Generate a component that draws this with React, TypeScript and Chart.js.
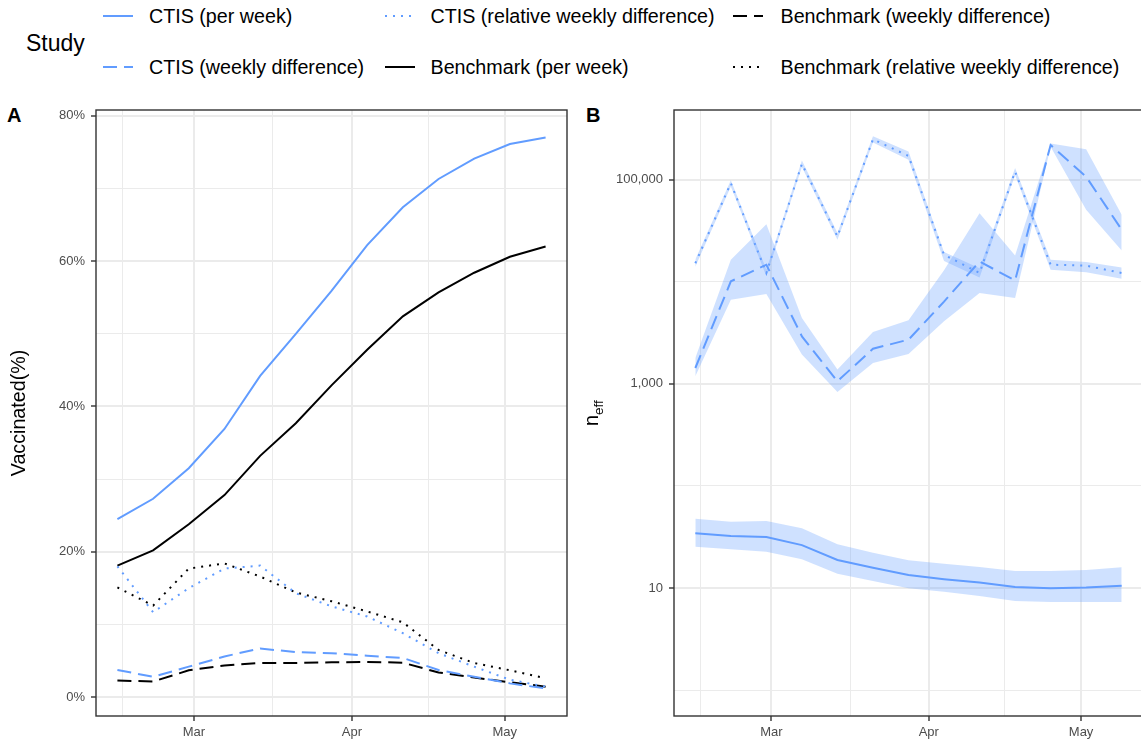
import React, { useEffect, useRef } from "react";
import { Chart, registerables } from "chart.js";

Chart.register(...registerables);

const FONT = "'Liberation Sans', Arial, Helvetica, sans-serif";
Chart.defaults.font.family = FONT;

// ---------------- data ----------------
const weeks = [
  "2021-02-14", "2021-02-21", "2021-02-28", "2021-03-07", "2021-03-14", "2021-03-21", "2021-03-28",
  "2021-04-04", "2021-04-11", "2021-04-18", "2021-04-25", "2021-05-02", "2021-05-09",
];
const monthBreaks = ["2021-02-01", "2021-03-01", "2021-04-01", "2021-05-01", "2021-06-01"];
const monthNames = ["Feb", "Mar", "Apr", "May", "Jun"];

// Panel A: vaccinated (%)
const ctisPerWeek = [24.5, 27.3, 31.5, 36.9, 44.2, 50.0, 55.9, 62.2, 67.4, 71.3, 74.1, 76.1, 77.0];
const benchPerWeek = [18.1, 20.2, 23.8, 27.8, 33.2, 37.7, 42.9, 47.8, 52.4, 55.7, 58.4, 60.6, 62.0];
const ctisWeeklyDiff = [3.75, 2.8, 4.2, 5.6, 6.7, 6.2, 6.05, 5.7, 5.4, 3.75, 2.8, 1.9, 1.2];
const benchWeeklyDiff = [2.3, 2.15, 3.7, 4.35, 4.7, 4.7, 4.8, 4.85, 4.75, 3.4, 2.7, 2.05, 1.45];
const ctisRelDiff = [18.0, 11.7, 15.0, 17.7, 18.1, 14.3, 12.5, 11.1, 8.8, 6.05, 4.2, 2.4, 1.45];
const benchRelDiff = [15.1, 12.6, 17.7, 18.4, 16.6, 14.4, 13.2, 11.8, 10.3, 6.5, 4.7, 3.7, 2.6];
const pctTicks = [0, 20, 40, 60, 80];

// Panel B: effective sample size
const neffPerWeek = [34.3, 32.3, 31.6, 26.3, 18.8, 15.8, 13.4, 12.2, 11.3, 10.2, 9.93, 10.1, 10.5];
const neffPerWeekLo = [25.4, 23.9, 22.6, 19.1, 13.8, 11.7, 9.93, 9.2, 8.36, 7.46, 7.3, 7.3, 7.3];
const neffPerWeekHi = [47.6, 44.6, 45.3, 38.4, 26.8, 22.1, 18.7, 17.3, 16.1, 14.7, 14.7, 15.0, 16.0];
const neffWeeklyDiff = [1430, 10100, 14700, 2920, 1060, 2210, 2710, 6400, 15800, 10300, 219000, 107000, 32400];
const neffWeeklyDiffLo = [1190, 6680, 7590, 1940, 834, 1600, 1960, 4100, 7770, 6930, 210000, 50700, 20300];
const neffWeeklyDiffHi = [1790, 16400, 36700, 4420, 1380, 3220, 4190, 13000, 47000, 18100, 226000, 199000, 45400];
const neffRelDiff = [15200, 92500, 12200, 143000, 27800, 249000, 171000, 18400, 12200, 120000, 14700, 14400, 12200];
const neffRelDiffLo = [14000, 86000, 11300, 133000, 25800, 232000, 157000, 16000, 11000, 111000, 13100, 12400, 10700];
const neffRelDiffHi = [16500, 99000, 13200, 154000, 30000, 267000, 189000, 19600, 13600, 130000, 16400, 15600, 13800];
const neffTicks = [1, 10, 100, 1000, 10000, 100000];
const neffLabeledTicks = [10, 1000, 100000];
const neffRange = [0.557, 482000];

// Legend
const legendRow1 = ["CTIS (per week)", "CTIS (relative weekly difference)", "Benchmark (weekly difference)"];
const legendRow2 = ["CTIS (weekly difference)", "Benchmark (per week)", "Benchmark (relative weekly difference)"];

// ---------------- styles ----------------
const BLUE = "#619CFF";
const BLACK = "#000000";
const RIBBON = "rgba(97,156,255,0.3)";
const SOLID: number[] = [];
const DASHED = [14, 7];
const DOTTED = [2, 6];
const GRID = "#EBEBEB";
const AXIS_DARK = "#333333";
const TICK_TEXT = "#4D4D4D";

const legendStyles1 = [
  { color: BLUE, dash: SOLID },
  { color: BLUE, dash: DOTTED },
  { color: BLACK, dash: DASHED },
];
const legendStyles2 = [
  { color: BLUE, dash: DASHED },
  { color: BLACK, dash: SOLID },
  { color: BLACK, dash: DOTTED },
];

// ---------------- helpers ----------------
const dayNum = (s: string) => {
  const [y, m, d] = s.split("-").map(Number);
  return Date.UTC(y, m - 1, d) / 86400000;
};
const xDays = weeks.map(dayNum);
const xSpan = xDays[xDays.length - 1] - xDays[0];
const xMin = xDays[0] - 0.05 * xSpan;
const xMax = xDays[xDays.length - 1] + 0.05 * xSpan;

const monthDays = monthBreaks.map(dayNum);
const xTickList: any[] = [];
monthDays.forEach((d, i) => {
  if (d >= xMin && d <= xMax) xTickList.push({ value: d, lab: monthNames[i], minor: false });
  if (i < monthDays.length - 1) {
    const mid = (d + monthDays[i + 1]) / 2;
    if (mid >= xMin && mid <= xMax) xTickList.push({ value: mid, lab: "", minor: true });
  }
});
xTickList.sort((a, b) => a.value - b.value);

const allA = [...ctisPerWeek, ...benchPerWeek, ...ctisWeeklyDiff, ...benchWeeklyDiff, ...ctisRelDiff, ...benchRelDiff];
const aMinV = Math.min(...allA);
const aMaxV = Math.max(...allA);
const yMinA = aMinV - 0.05 * (aMaxV - aMinV);
const yMaxA = aMaxV + 0.05 * (aMaxV - aMinV);
const yTickListA: any[] = [];
pctTicks.forEach((v, i) => {
  yTickListA.push({ value: v, lab: v + "%", minor: false });
  if (i < pctTicks.length - 1) yTickListA.push({ value: (v + pctTicks[i + 1]) / 2, lab: "", minor: true });
});

const yTickListB = neffTicks.map((v) => {
  const labeled = neffLabeledTicks.includes(v);
  return { value: v, lab: labeled ? v.toLocaleString("en-US") : "", minor: !labeled };
});

const gridOpts = {
  color: GRID,
  lineWidth: (c: any) => (c.tick && c.tick.minor ? 1 : 2),
  tickLength: 5,
  tickColor: (c: any) => (c.tick && c.tick.minor ? "rgba(0,0,0,0)" : AXIS_DARK),
  tickWidth: 1.4,
  drawTicks: true,
};

const tickFont = { size: 13, family: FONT };

const xScale = () => ({
  type: "linear",
  min: xMin,
  max: xMax,
  bounds: "data",
  afterBuildTicks: (s: any) => {
    s.ticks = xTickList.map((t) => ({ ...t }));
  },
  afterFit: (s: any) => {
    s.height = 25;
  },
  ticks: {
    autoSkip: false,
    maxRotation: 0,
    minRotation: 0,
    padding: 4,
    color: TICK_TEXT,
    font: tickFont,
    callback: (_v: any, i: number, ticks: any[]) => ticks[i].lab,
  },
  grid: gridOpts,
  border: { display: false },
});

const series = (values: number[], color: string, dash: number[]) => ({
  data: weeks.map((w, i) => ({ x: dayNum(w), y: values[i] })),
  borderColor: color,
  backgroundColor: color,
  borderWidth: 2,
  borderDash: dash,
  borderCapStyle: "butt",
  pointRadius: 0,
  tension: 0,
  fill: false,
});

const band = (lo: number[], hi: number[]) => [
  {
    data: weeks.map((w, i) => ({ x: dayNum(w), y: lo[i] })),
    borderWidth: 0,
    borderColor: "rgba(0,0,0,0)",
    pointRadius: 0,
    tension: 0,
    fill: false,
  },
  {
    data: weeks.map((w, i) => ({ x: dayNum(w), y: hi[i] })),
    borderWidth: 0,
    borderColor: "rgba(0,0,0,0)",
    backgroundColor: RIBBON,
    pointRadius: 0,
    tension: 0,
    fill: "-1",
  },
];

const panelBorder = {
  id: "panelBorder",
  afterDraw(chart: any) {
    const { ctx, chartArea: a } = chart;
    ctx.save();
    ctx.strokeStyle = AXIS_DARK;
    ctx.lineWidth = 1.4;
    ctx.strokeRect(a.left, a.top, a.right - a.left, a.bottom - a.top);
    ctx.restore();
  },
};

const neffTitle = {
  id: "neffTitle",
  afterDraw(chart: any) {
    const { ctx, chartArea: a } = chart;
    const cy = (a.top + a.bottom) / 2;
    ctx.save();
    ctx.translate(a.left - 76, cy + 13);
    ctx.rotate(-Math.PI / 2);
    ctx.fillStyle = "#000";
    ctx.textBaseline = "alphabetic";
    ctx.textAlign = "left";
    ctx.font = `19.7px ${FONT}`;
    ctx.fillText("n", 0, 0);
    const w = ctx.measureText("n").width;
    ctx.font = `13.5px ${FONT}`;
    ctx.fillText("eff", w, 5);
    ctx.restore();
  },
};

const commonOpts = {
  responsive: false,
  animation: false,
  devicePixelRatio: 1,
  events: [],
  plugins: {
    legend: { display: false },
    tooltip: { enabled: false },
    filler: { drawTime: "beforeDatasetsDraw" },
  },
};

const configA = () => ({
  type: "line",
  data: {
    datasets: [
      series(ctisPerWeek, BLUE, SOLID),
      series(ctisWeeklyDiff, BLUE, DASHED),
      series(ctisRelDiff, BLUE, DOTTED),
      series(benchPerWeek, BLACK, SOLID),
      series(benchWeeklyDiff, BLACK, DASHED),
      series(benchRelDiff, BLACK, DOTTED),
    ],
  },
  options: {
    ...commonOpts,
    layout: { padding: { top: 20, right: 13, bottom: 0, left: 0 } },
    scales: {
      x: xScale(),
      y: {
        type: "linear",
        min: yMinA,
        max: yMaxA,
        bounds: "data",
        afterBuildTicks: (s: any) => {
          s.ticks = yTickListA.map((t) => ({ ...t }));
        },
        afterFit: (s: any) => {
          s.width = 96;
        },
        ticks: {
          autoSkip: false,
          padding: 6,
          color: TICK_TEXT,
          font: tickFont,
          callback: (_v: any, i: number, ticks: any[]) => ticks[i].lab,
        },
        title: {
          display: true,
          text: "Vaccinated(%)",
          color: "#000",
          font: { size: 19.7, family: FONT },
          padding: { top: 8, bottom: 0 },
        },
        grid: gridOpts,
        border: { display: false },
      },
    },
  },
  plugins: [panelBorder],
});

const configB = () => ({
  type: "line",
  data: {
    datasets: [
      series(neffPerWeek, BLUE, SOLID),
      series(neffWeeklyDiff, BLUE, DASHED),
      series(neffRelDiff, BLUE, DOTTED),
      ...band(neffPerWeekLo, neffPerWeekHi),
      ...band(neffWeeklyDiffLo, neffWeeklyDiffHi),
      ...band(neffRelDiffLo, neffRelDiffHi),
    ],
  },
  options: {
    ...commonOpts,
    layout: { padding: { top: 20, right: 0, bottom: 0, left: 0 } },
    scales: {
      x: xScale(),
      y: {
        type: "logarithmic",
        min: neffRange[0],
        max: neffRange[1],
        afterBuildTicks: (s: any) => {
          s.ticks = yTickListB.map((t) => ({ ...t }));
        },
        afterFit: (s: any) => {
          s.width = 94;
        },
        ticks: {
          autoSkip: false,
          padding: 6,
          color: TICK_TEXT,
          font: tickFont,
          callback: (_v: any, i: number, ticks: any[]) => ticks[i].lab,
        },
        grid: gridOpts,
        border: { display: false },
      },
    },
  },
  plugins: [panelBorder, neffTitle],
});

function Panel(props: { left: number; top: number; width: number; height: number; config: () => any }) {
  const ref = useRef<HTMLCanvasElement>(null);
  useEffect(() => {
    const chart = new Chart(ref.current as HTMLCanvasElement, props.config());
    return () => chart.destroy();
  }, []);
  return (
    <canvas
      ref={ref}
      width={props.width}
      height={props.height}
      style={{ position: "absolute", left: props.left, top: props.top, width: props.width, height: props.height }}
    />
  );
}

function LegendKey(props: { x: number; y: number; color: string; dash: number[] }) {
  return (
    <svg style={{ position: "absolute", left: props.x, top: props.y - 5 }} width={30} height={10}>
      <line
        x1={0}
        y1={5}
        x2={30}
        y2={5}
        stroke={props.color}
        strokeWidth={2}
        strokeDasharray={props.dash.length ? props.dash.join(" ") : undefined}
      />
    </svg>
  );
}

const legendKeyX = [103, 385, 733];
const legendTextX = [149, 430.5, 780.5];
const legendRowKeyY = [16, 67];
const legendRowTextTop = [7.2, 57.6];

export default function App() {
  const rows = [
    { labels: legendRow1, styles: legendStyles1 },
    { labels: legendRow2, styles: legendStyles2 },
  ];
  return (
    <div
      style={{
        position: "fixed",
        left: 0,
        top: 0,
        width: 1141,
        height: 741,
        background: "#fff",
        overflow: "hidden",
        fontFamily: FONT,
        color: "#000",
      }}
    >
      <div style={{ position: "absolute", left: 26, top: 31.5, fontSize: 23, lineHeight: "23px", whiteSpace: "nowrap" }}>
        Study
      </div>
      {rows.map((row, r) =>
        row.labels.map((lab, c) => (
          <React.Fragment key={`${r}-${c}`}>
            <LegendKey x={legendKeyX[c]} y={legendRowKeyY[r]} color={row.styles[c].color} dash={row.styles[c].dash} />
            <div
              style={{
                position: "absolute",
                left: legendTextX[c],
                top: legendRowTextTop[r],
                fontSize: 19.7,
                lineHeight: "19.7px",
                whiteSpace: "nowrap",
              }}
            >
              {lab}
            </div>
          </React.Fragment>
        ))
      )}
      <div style={{ position: "absolute", left: 7, top: 105.4, fontSize: 20, lineHeight: "20px", fontWeight: "bold" }}>
        A
      </div>
      <div style={{ position: "absolute", left: 586, top: 105.4, fontSize: 20, lineHeight: "20px", fontWeight: "bold" }}>
        B
      </div>
      <Panel left={0} top={90} width={580} height={651} config={configA} />
      <Panel left={580} top={90} width={563} height={651} config={configB} />
    </div>
  );
}
